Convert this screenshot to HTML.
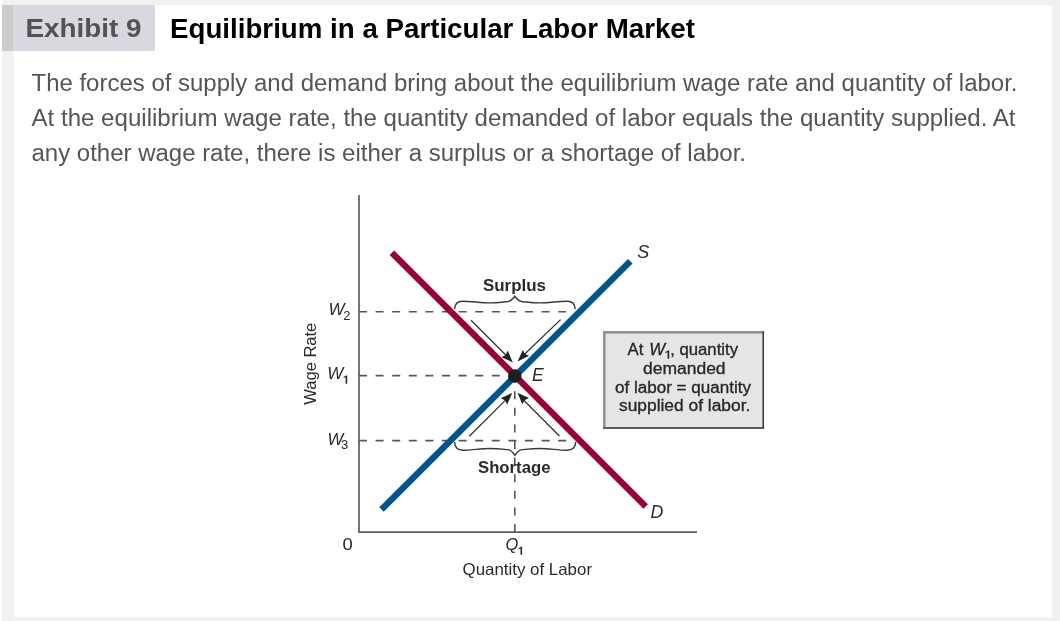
<!DOCTYPE html>
<html><head><meta charset="utf-8">
<style>
html,body{margin:0;padding:0;width:1060px;height:621px;overflow:hidden;background:#fff;}
body{position:relative;font-family:"Liberation Sans",sans-serif;}
.outer{position:absolute;left:2px;top:0;width:1058px;height:621px;background:#f1f1f1;}
.panel{position:absolute;left:14px;top:5px;width:1038px;height:612px;background:#fff;}
.hbar{position:absolute;left:2px;top:5px;width:11px;height:46px;background:#cccccc;}
.hbox{position:absolute;left:13px;top:5px;width:142px;height:46px;background:#d9d8e0;}
svg{position:absolute;left:0;top:0;will-change:transform;}
</style></head>
<body>
<div class="outer"></div>
<div class="panel"></div>
<div class="hbar"></div>
<div class="hbox"></div>
<svg width="1060" height="621" viewBox="0 0 1060 621">
<g font-family="Liberation Sans, sans-serif">
  <!-- header -->
  <text x="25.5" y="37" font-size="26.5" font-weight="bold" fill="#505553" textLength="116" lengthAdjust="spacingAndGlyphs">Exhibit 9</text>
  <text x="170" y="38" font-size="27.3" font-weight="bold" fill="#000" textLength="525" lengthAdjust="spacingAndGlyphs">Equilibrium in a Particular Labor Market</text>
  <!-- paragraph -->
  <g font-size="23.5" fill="#555">
    <text x="31.5" y="91" textLength="986" lengthAdjust="spacingAndGlyphs">The forces of supply and demand bring about the equilibrium wage rate and quantity of labor.</text>
    <text x="31.5" y="125.5" textLength="984" lengthAdjust="spacingAndGlyphs">At the equilibrium wage rate, the quantity demanded of labor equals the quantity supplied. At</text>
    <text x="31.5" y="160.5" textLength="714.5" lengthAdjust="spacingAndGlyphs">any other wage rate, there is either a surplus or a shortage of labor.</text>
  </g>
</g>
<!-- chart -->
<g fill="none" stroke="#5f5f5f" stroke-width="1.7">
  <path d="M359 195 V532.2 H697"/>
</g>
<g fill="none" stroke="#575757" stroke-width="1.6" stroke-dasharray="8 8.6">
  <path d="M359 311.8 H567"/>
  <path d="M359 375.6 H514"/>
  <path d="M359 440.6 H567"/>
  <path d="M514.8 532 V376"/>
</g>
<!-- braces -->
<g fill="none" stroke="#3a3a3a" stroke-width="1.4">
  <path d="M454.6 309 C454.8 304 457.5 301.2 462.5 301.2 C472 301.2 480 302.9 490 302.9 C498 302.9 504 301.8 508 301.5 C511 301 513 298.5 514.8 296.2 C516.6 298.5 518.6 301 521.6 301.5 C525.6 301.8 531.6 302.9 539.6 302.9 C549.6 302.9 557.6 301.2 567.1 301.2 C572.1 301.2 575 304 575.2 309"/>
  <path d="M454.6 442 C454.8 447 457.5 450.2 463 450.2 C472.5 450.2 480 448.5 489.6 448.5 C498 448.5 504 449.3 508 449.6 C511 450 513 452.5 514.9 455.3 C516.8 452.5 518.8 450 521.8 449.6 C525.8 449.3 531.8 448.5 540.2 448.5 C549.8 448.5 557.3 450.2 566.8 450.2 C572.3 450.2 575.5 447 575.7 442"/>
</g>
<!-- arrows -->
<g stroke="#333" stroke-width="1.3" fill="none">
  <path d="M471 320.3 L506 355.3"/>
  <path d="M560.6 319.6 L524.5 354.3"/>
  <path d="M469.3 436.3 L505.5 400.1"/>
  <path d="M559.4 436 L524 400.5"/>
</g>
<g fill="#222">
  <path d="M512.8 362.4 L501.4 357.2 L505.65 354.95 L507.8 350.6 Z"/>
  <path d="M517.6 361.4 L522.8 349.9 L525 353.9 L529.2 355.8 Z"/>
  <path d="M512.2 392.9 L500.6 398.3 L504.95 400.35 L507.2 404.5 Z"/>
  <path d="M517.5 392.7 L528.9 398.1 L524.55 400.15 L522.3 404.3 Z"/>
</g>
<!-- curves -->
<path d="M391.9 252.7 L645.7 506.5" stroke="#9c0030" stroke-width="6.4" fill="none"/>
<path d="M381.5 509.5 L630.3 261.2" stroke="#04548c" stroke-width="6.4" fill="none"/>
<circle cx="514.8" cy="376" r="6.8" fill="#1e1e1e"/>
<!-- labels -->
<g font-family="Liberation Sans, sans-serif" fill="#2a2a2a">
  <text x="532" y="381.3" font-size="17.5" font-style="italic">E</text>
  <text x="637.2" y="257.6" font-size="18" font-style="italic">S</text>
  <text x="650.6" y="517.6" font-size="17.8" font-style="italic">D</text>
  <text x="483" y="290.8" font-size="16.4" font-weight="bold" textLength="63" lengthAdjust="spacingAndGlyphs">Surplus</text>
  <text x="478" y="473.2" font-size="16.4" font-weight="bold" textLength="72.5" lengthAdjust="spacingAndGlyphs">Shortage</text>
  <text x="342.5" y="549.9" font-size="16.5" textLength="10.3" lengthAdjust="spacingAndGlyphs">0</text>
  <text x="505.5" y="549.8" font-size="16.5" font-style="italic">Q</text>
  <g fill="#2a2a2a"><path d="M520.5 554.8 L522.1 554.8 L522.1 546.7 L521.0 546.7 L518.7 548.3 L518.7 549.4 L520.5 548.6 Z"/></g>
  <text x="462.5" y="574.9" font-size="16.5" textLength="129.5" lengthAdjust="spacingAndGlyphs">Quantity of Labor</text>
  <text x="328.5" y="315.1" font-size="17" font-style="italic">W</text>
  <text x="343.3" y="320" font-size="12.3" textLength="7.2" lengthAdjust="spacingAndGlyphs">2</text>
  <text x="327.3" y="378.7" font-size="17" font-style="italic">W</text>
  <g fill="#2a2a2a"><path d="M345.6 383.8 L347.2 383.8 L347.2 375.4 L346.1 375.4 L343.6 377.0 L343.6 378.1 L345.6 377.3 Z"/></g>
  <text x="327.6" y="444.8" font-size="16.8" font-style="italic">W</text>
  <text x="341" y="448.7" font-size="12" textLength="7.2" lengthAdjust="spacingAndGlyphs">3</text>
  <text transform="translate(316 404.7) rotate(-90)" font-size="16.4" textLength="82" lengthAdjust="spacingAndGlyphs">Wage Rate</text>
</g>
<!-- box -->
<rect x="603.2" y="331.2" width="160.8" height="97.7" fill="#e5e5e5"/>
<path d="M603.2 332.3 H764" stroke="#878787" stroke-width="2.2" fill="none"/>
<path d="M604.35 331.2 V428.9" stroke="#8a8a8a" stroke-width="2.3" fill="none"/>
<path d="M603.2 428 H764" stroke="#5e5e5e" stroke-width="1.8" fill="none"/>
<path d="M763.25 331.2 V428.9" stroke="#3c3c3c" stroke-width="1.6" fill="none"/>
<g font-family="Liberation Sans, sans-serif" fill="#262626" stroke="#262626" stroke-width="0.3" font-size="16">
  <text x="627.5" y="355.4" textLength="15.8" lengthAdjust="spacingAndGlyphs">At</text>
  <text x="649.3" y="355.4" font-size="16.8" font-style="italic">W</text>
  <path fill="#262626" stroke="none" d="M667.6 358.8 L669.2 358.8 L669.2 350.4 L668.1 350.4 L665.4 352.0 L665.4 353.1 L667.6 352.3 Z"/>
  <text x="670.2" y="355.4" textLength="67.8" lengthAdjust="spacingAndGlyphs">, quantity</text>
  <text x="643" y="373.9" textLength="82.6" lengthAdjust="spacingAndGlyphs">demanded</text>
  <text x="615" y="392.7" textLength="136" lengthAdjust="spacingAndGlyphs">of labor = quantity</text>
  <text x="619" y="411.0" textLength="131.3" lengthAdjust="spacingAndGlyphs">supplied of labor.</text>
</g>
</svg>
</body></html>
